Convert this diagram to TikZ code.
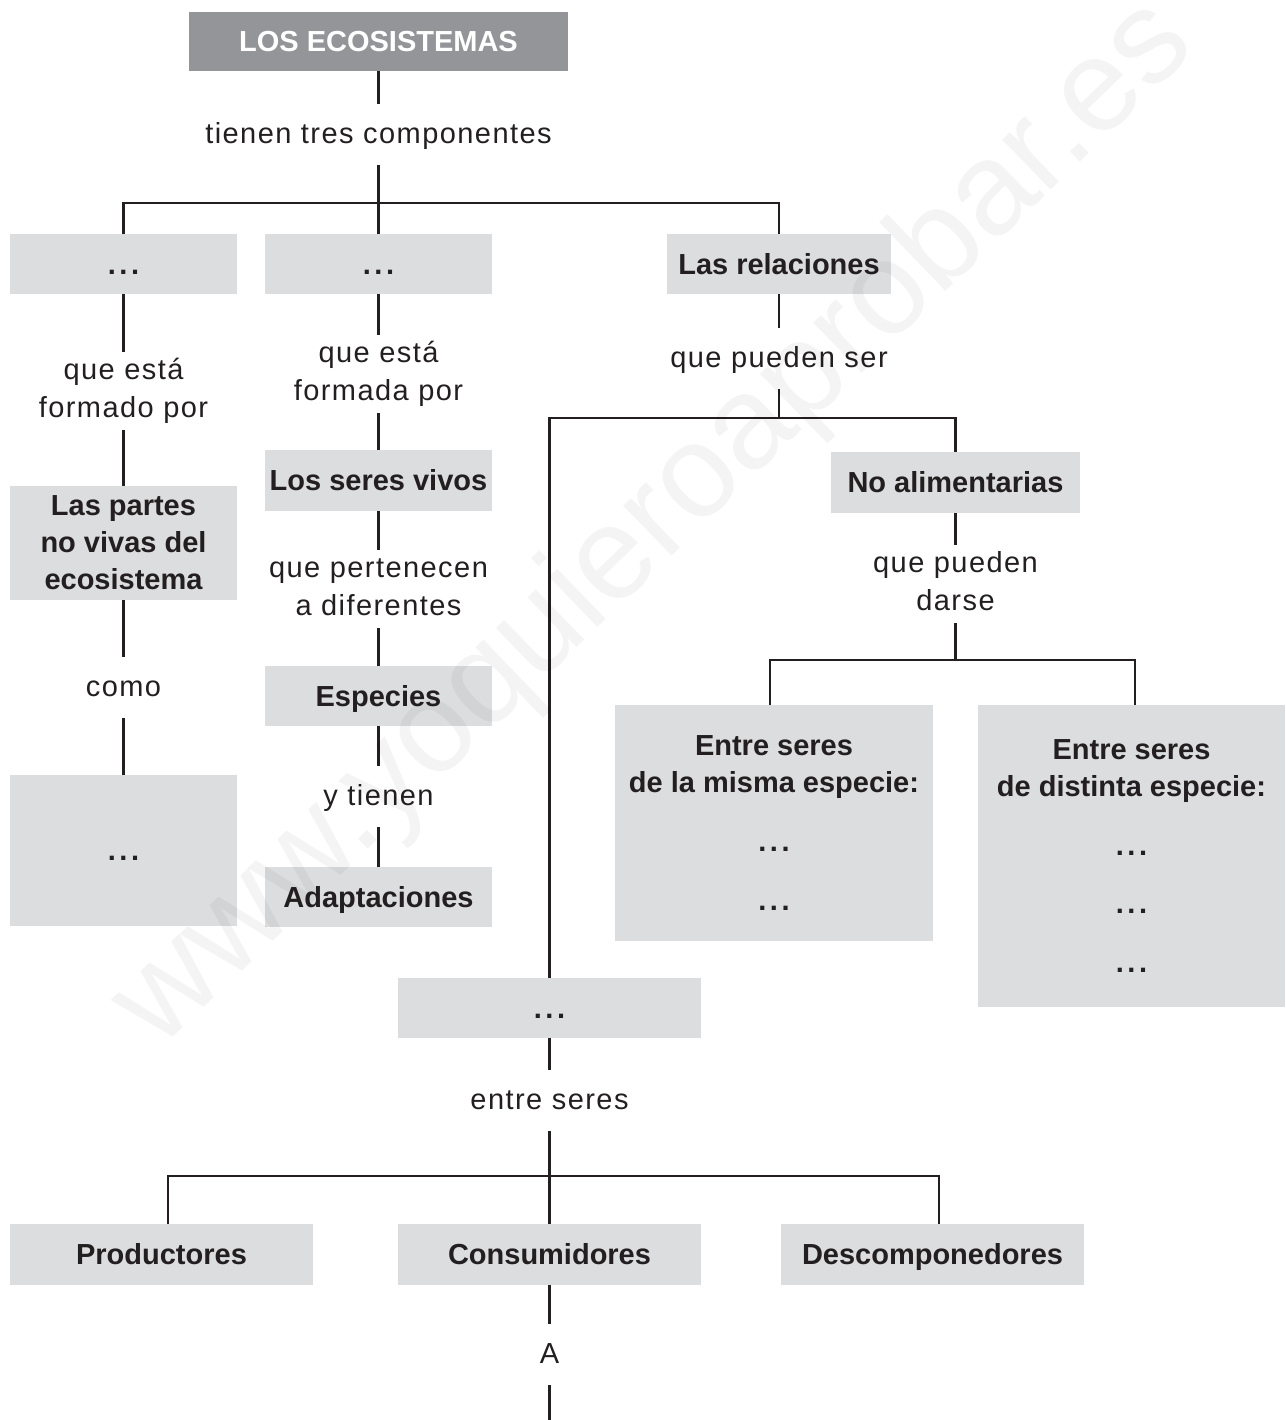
\documentclass[tikz,border=0pt]{standalone}
\usepackage{fontspec}
\setmainfont{Liberation Sans}
\newfontfamily\lblfont[LetterSpace=5]{Liberation Sans}
\definecolor{boxgray}{HTML}{DCDDDE}
\definecolor{headgray}{HTML}{939598}
\definecolor{ink}{HTML}{231F20}
\newcommand\dotsx{.\kern2pt.\kern2pt.}
\newcommand\twoln[2]{\rule{0pt}{15.3pt}#1\\#2\rule[-7.4pt]{0pt}{7.4pt}}
\begin{document}
\begin{tikzpicture}[x=0.02cm,y=-0.02cm,
  conn/.style={draw=ink, line width=1.5pt},
  boxbase/.style={fill=boxgray, inner sep=0pt, text=ink, align=center,
    font=\fontsize{16.5}{21}\selectfont\bfseries, minimum width=4.54cm, minimum height=1.2cm},
  box/.style={boxbase, text height=11.8pt, text depth=0pt},
  lbl/.style={inner sep=0pt, text=ink, anchor=north, font=\lblfont\fontsize{16.5}{21.5}\selectfont,
    text height=22pt, text depth=12.5pt},
  lbltwo/.style={inner sep=0pt, text=ink, anchor=north, align=center,
    font=\lblfont\fontsize{16.5}{21.5}\selectfont}]
\useasboundingbox (0,0) rectangle (1285,1420);
% boxes
\node[box, fill=headgray, text=white, minimum width=7.58cm, minimum height=1.18cm] (top) at (378.5,41.5) {LOS ECOSISTEMAS};
\node[box] (b1) at (123.5,264) {\dotsx};
\node[box] (b2) at (378.5,264) {\dotsx};
\node[box, minimum width=4.5cm] (rel) at (779,264) {Las relaciones};
\node[boxbase, minimum height=2.28cm] (partes) at (123.5,543) {Las partes\\no vivas del\\ecosistema};
\node[box, minimum height=3.02cm] (b1b) at (123.5,850.5) {\dotsx};
\node[box, minimum height=1.22cm] (seres) at (378.5,480.5) {Los seres vivos};
\node[box] (especies) at (378.5,696) {Especies};
\node[box] (adapt) at (378.5,897) {Adaptaciones};
\node[box, minimum width=4.98cm, minimum height=1.22cm] (noalim) at (955.5,482.5) {No alimentarias};
\node[boxbase, minimum width=6.36cm, minimum height=4.72cm] (misma) at (774,823)
  {Entre seres\\de la misma especie:\\[12.5pt]\dotsx\\[12.5pt]\dotsx};
\node[boxbase, minimum width=6.14cm, minimum height=6.04cm] (distinta) at (1131.5,856)
  {Entre seres\\de distinta especie:\\[12.5pt]\dotsx\\[12.5pt]\dotsx\\[12.5pt]\dotsx};
\node[box, minimum width=6.06cm] (alim) at (549.5,1008) {\dotsx};
\node[box, minimum width=6.06cm, minimum height=1.22cm] (prod) at (161.5,1254.5) {Productores};
\node[box, minimum width=6.06cm, minimum height=1.22cm] (cons) at (549.5,1254.5) {Consumidores};
\node[box, minimum width=6.06cm, minimum height=1.22cm] (desc) at (932.5,1254.5) {Descomponedores};
% labels
\node[lbl] (tienen) at (378.5,104) {tienen tres componentes};
\node[lbltwo] (formado) at (123.5,352) {\twoln{que está}{formado por}};
\node[lbltwo] (formada) at (378.5,335) {\twoln{que está}{formada por}};
\node[lbltwo] (pertenecen) at (378.5,550) {\twoln{que pertenecen}{a diferentes}};
\node[lbl] (como) at (123.5,657) {como};
\node[lbl] (ytienen) at (378.5,766) {y tienen};
\node[lbl] (pueden) at (779,328) {que pueden ser};
\node[lbltwo] (darse) at (955.5,545) {\twoln{que pueden}{darse}};
\node[lbl] (entre) at (549.5,1070) {entre seres};
\node[lbl] (A) at (549.5,1324) {A};
% junctions
\coordinate (j1) at (378.5,203);
\coordinate (j2) at (779,418);
\coordinate (j3) at (955.5,660);
\coordinate (j4) at (549.5,1176);
\coordinate (bend) at (549.5,1420);
% connectors
\draw[conn] (top.south) -- (tienen.north);
\draw[conn] (tienen.south) -- (j1);
\draw[conn] (b1.north) |- (j1) -| (rel.north);
\draw[conn] (j1) -- (b2.north);
\draw[conn] (b1.south) -- (formado.north);
\draw[conn] (formado.south) -- (partes.north);
\draw[conn] (partes.south) -- (como.north);
\draw[conn] (como.south) -- (b1b.north);
\draw[conn] (b2.south) -- (formada.north);
\draw[conn] (formada.south) -- (seres.north);
\draw[conn] (seres.south) -- (pertenecen.north);
\draw[conn] (pertenecen.south) -- (especies.north);
\draw[conn] (especies.south) -- (ytienen.north);
\draw[conn] (ytienen.south) -- (adapt.north);
\draw[conn] (rel.south) -- (pueden.north);
\draw[conn] (pueden.south) -- (j2);
\draw[conn] (alim.north) |- (j2) -| (noalim.north);
\draw[conn] (noalim.south) -- (darse.north);
\draw[conn] (darse.south) -- (j3);
\draw[conn] ([xshift=-0.08cm]misma.north) |- (j3) -| ([xshift=0.07cm]distinta.north);
\draw[conn] (alim.south) -- (entre.north);
\draw[conn] (entre.south) -- (j4);
\draw[conn] ([xshift=0.13cm]prod.north) |- (j4) -| ([xshift=0.13cm]desc.north);
\draw[conn] (j4) -- (cons.north);
\draw[conn] (cons.south) -- (A.north);
\draw[conn] (A.south) -- (bend);
% watermark
\node[rotate=44, text=black, opacity=0.045, inner sep=0pt, font=\fontsize{75}{75}\selectfont] (wm) at (655,525) {www.yoquieroaprobar.es};
\end{tikzpicture}
\end{document}
